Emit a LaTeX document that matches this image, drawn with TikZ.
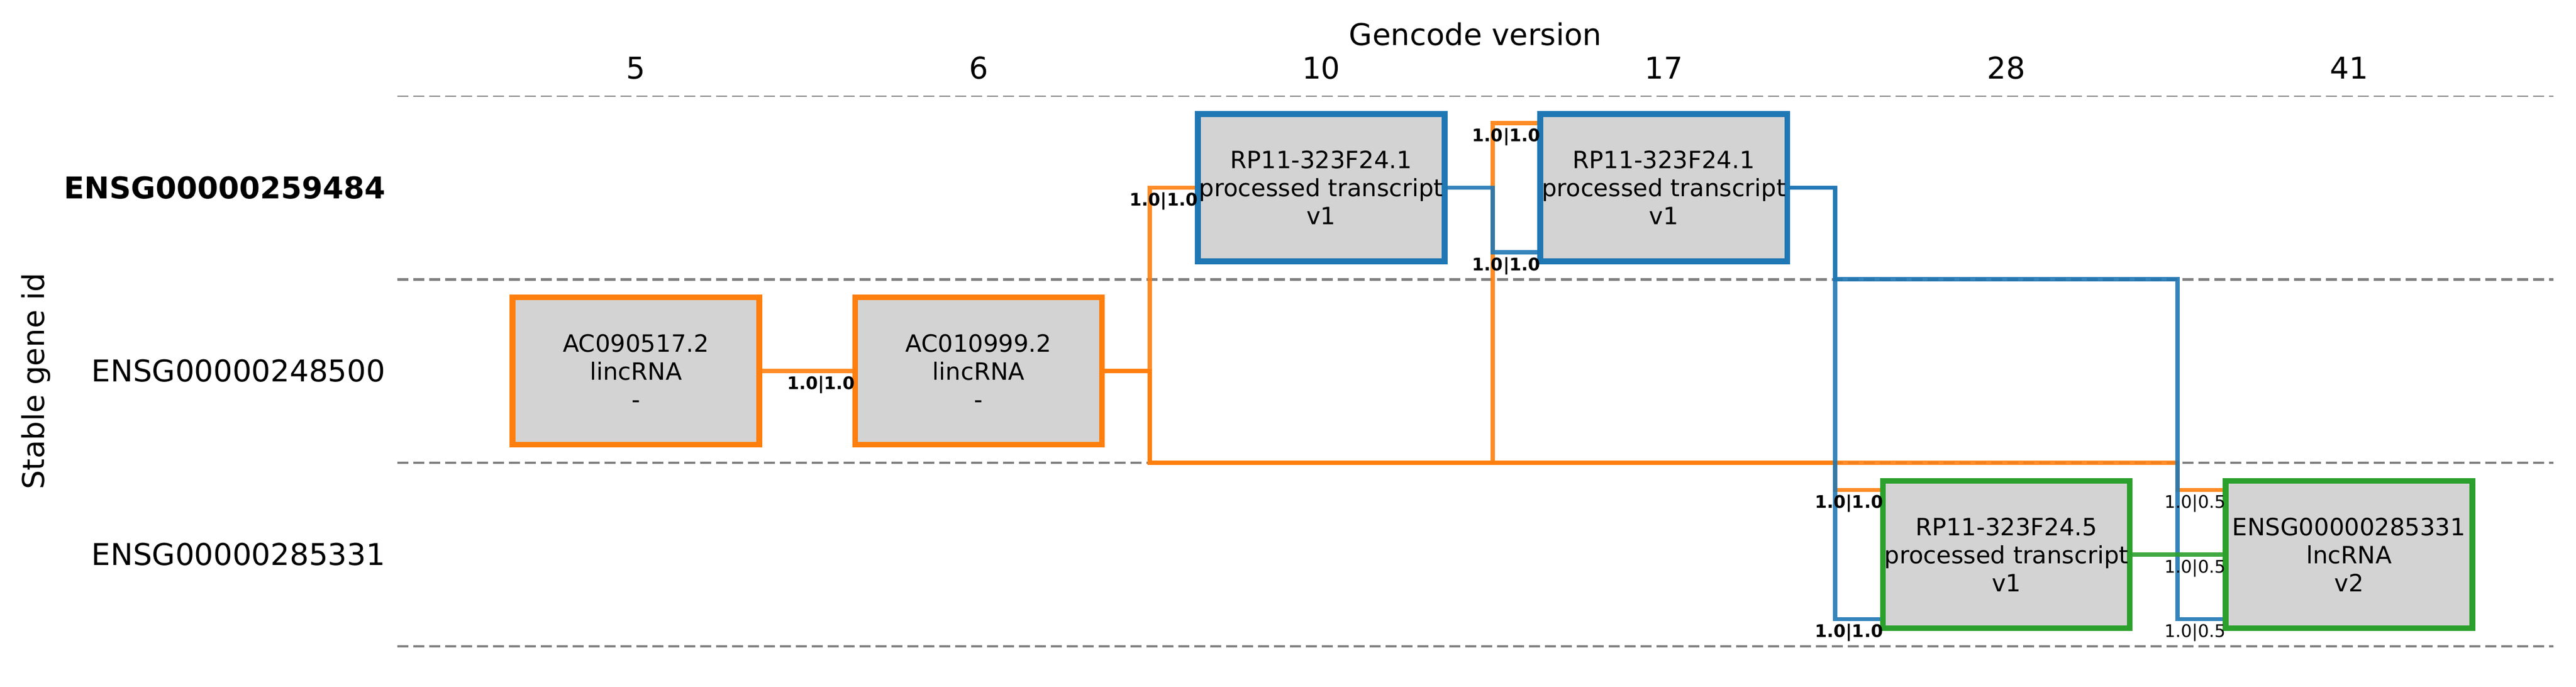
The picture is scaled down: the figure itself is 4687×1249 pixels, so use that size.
\documentclass[tikz,border=0pt]{standalone}
\usepackage{fontspec}
\setmainfont{DejaVu Sans}
\definecolor{tabblue}{HTML}{1F77B4}
\definecolor{taborange}{HTML}{FF7F0E}
\definecolor{tabgreen}{HTML}{2CA02C}
\definecolor{boxfill}{HTML}{D3D3D3}
\definecolor{gridgray}{HTML}{808080}
\pgfdeclarelayer{bg}
\pgfsetlayers{bg,main}
\tikzset{
  genebox/.style={rectangle, draw, line width=2.52pt, fill=boxfill,
    minimum width=107.8pt, minimum height=64.3pt, inner sep=0pt, outer sep=0pt,
    align=center, font=\fontsize{10.4pt}{12.25pt}\selectfont},
  rowsep/.style={draw=gridgray, dash pattern=on 4.8pt off 2.16pt},
  link/.style={line width=1.9pt, draw opacity=0.9},
  orlink/.style={link, draw=taborange},
  bllink/.style={link, draw=tabblue},
  grlink/.style={link, draw=tabgreen},
  scorelbl/.style={anchor=north east, inner sep=0pt, outer sep=0pt,
    font=\fontsize{7.6pt}{9pt}\selectfont},
  scorebold/.style={scorelbl, font=\fontsize{7.6pt}{9pt}\selectfont\bfseries},
  axtext/.style={inner sep=0pt, outer sep=0pt, font=\fontsize{13.1pt}{15.7pt}\selectfont},
}
\begin{document}
\begin{tikzpicture}[x=0.24pt,y=-0.24pt]
\useasboundingbox (0,0) rectangle (4687,1249);

% helper coordinates
\coordinate (g2) at (0,508.3);
\coordinate (g3) at (0,842);
\coordinate (x6) at (2092.1,0);
\coordinate (x10) at (2715.5,0);
\coordinate (x17) at (3338.9,0);
\coordinate (x28) at (3962.3,0);

% axis texts
\node[axtext, anchor=base] (title) at (2684.5,82) {Gencode version};
\node[axtext, anchor=base] (c5) at (1157,143) {5};
\node[axtext, anchor=base] (c6) at (1780.4,143) {6};
\node[axtext, anchor=base] (c10) at (2403.8,143) {10};
\node[axtext, anchor=base] (c17) at (3027.2,143) {17};
\node[axtext, anchor=base] (c28) at (3650.6,143) {28};
\node[axtext, anchor=base] (c41) at (4274,143) {41};
\node[axtext, anchor=base, rotate=90] (ylab) at (80,694) {Stable gene id};
\node[axtext, anchor=east, font=\fontsize{13.1pt}{15.7pt}\selectfont\bfseries] (r1) at (701,341.5) {ENSG00000259484};
\node[axtext, anchor=east] (r2) at (701,675) {ENSG00000248500};
\node[axtext, anchor=east] (r3) at (701,1009) {ENSG00000285331};

% boxes
\node[genebox, draw=taborange] (b5) at (1157,675) {AC090517.2\\lincRNA\\-};
\node[genebox, draw=taborange] (b6) at (1780.4,675) {AC010999.2\\lincRNA\\-};
\node[genebox, draw=tabblue] (b10) at (2403.8,341.5) {RP11-323F24.1\\processed transcript\\v1};
\node[genebox, draw=tabblue] (b17) at (3027.2,341.5) {RP11-323F24.1\\processed transcript\\v1};
\node[genebox, draw=tabgreen] (b28) at (3650.6,1009) {RP11-323F24.5\\processed transcript\\v1};
\node[genebox, draw=tabgreen] (b41) at (4274,1009) {ENSG00000285331\\lncRNA\\v2};

% entry points
\coordinate (b17t) at ([yshift=28.2pt]b17.west);
\coordinate (b17b) at ([yshift=-28.2pt]b17.west);
\coordinate (b28t) at ([yshift=28.2pt]b28.west);
\coordinate (b28b) at ([yshift=-28.2pt]b28.west);
\coordinate (b41t) at ([yshift=28.2pt]b41.west);
\coordinate (b41b) at ([yshift=-28.2pt]b41.west);

\begin{pgfonlayer}{bg}
  % row separators
  \draw[rowsep, line width=0.65pt] (723,175) -- (4646,175);
  \draw[rowsep, line width=1.05pt] (723,508.3) -- (4646,508.3);
  \draw[rowsep, line width=1.05pt] (723,842) -- (4646,842);
  \draw[rowsep, line width=1.05pt] (723,1176) -- (4646,1176);
  % orange links
  \draw[orlink] (b5.east) -- (b6.west);
  \draw[orlink] (b6.east) -| (x6 |- b10.west) -- (b10.west);
  \draw[orlink] (b6.east) -| (x6 |- g3) -| (x10 |- b17t) -- (b17t);
  \draw[orlink] (b6.east) -| (x6 |- g3) -| (x17 |- b28t) -- (b28t);
  \draw[orlink] (b6.east) -| (x6 |- g3) -| (x28 |- b41t) -- (b41t);
  % blue links
  \draw[bllink] (b10.east) -| (x10 |- b17b) -- (b17b);
  \draw[bllink] (b17.east) -| (x17 |- b28b) -- (b28b);
  \draw[bllink] (b17.east) -| (x17 |- g2) -| (x28 |- b41b) -- (b41b);
  % green link
  \draw[grlink] (b28.east) -- (b41.west);
\end{pgfonlayer}

% score labels
\node[scorebold] (s1) at ([yshift=-2.16pt]b6.west) {1.0|1.0};
\node[scorebold] (s2) at ([yshift=-2.16pt]b10.west) {1.0|1.0};
\node[scorebold] (s3) at ([yshift=-2.16pt]b17t) {1.0|1.0};
\node[scorebold] (s4) at ([yshift=-2.16pt]b17b) {1.0|1.0};
\node[scorebold] (s5) at ([yshift=-2.16pt]b28t) {1.0|1.0};
\node[scorebold] (s6) at ([yshift=-2.16pt]b28b) {1.0|1.0};
\node[scorelbl] (s7) at ([yshift=-2.16pt]b41t) {1.0|0.5};
\node[scorelbl] (s8) at ([yshift=-2.16pt]b41.west) {1.0|0.5};
\node[scorelbl] (s9) at ([yshift=-2.16pt]b41b) {1.0|0.5};
\end{tikzpicture}
\end{document}
